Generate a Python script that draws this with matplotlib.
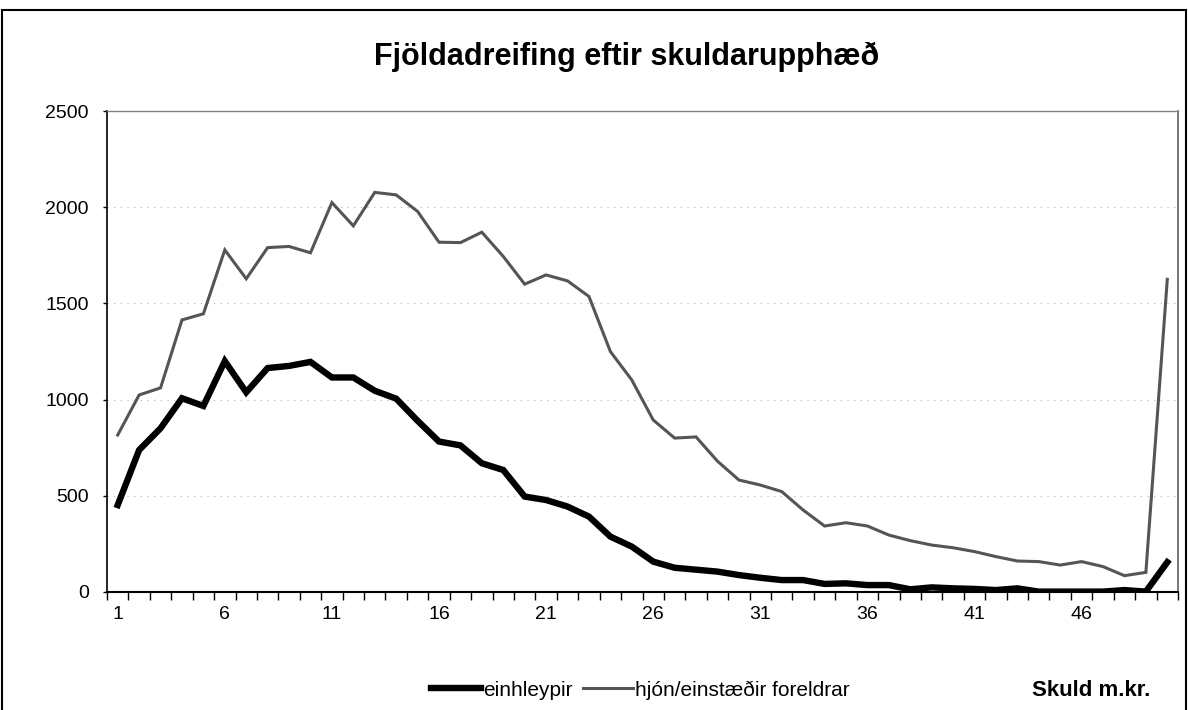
import matplotlib
matplotlib.use("Agg")
import matplotlib.pyplot as plt
from matplotlib.lines import Line2D
from matplotlib.patches import Rectangle
import numpy as np

plt.rcParams['font.family'] = ['Liberation Sans', 'DejaVu Sans']

categories = list(range(1, 51))
tick_labels = ['1', '6', '11', '16', '21', '26', '31', '36', '41', '46']

einhleypir = [452, 738, 851, 1007, 967, 1200, 1038, 1164, 1175, 1196,
              1115, 1115, 1046, 1005, 890, 782, 762, 669, 634, 496,
              478, 444, 392, 288, 236, 158, 126, 116, 106, 88,
              74, 62, 62, 42, 45, 36, 36, 14, 24, 19,
              16, 10, 19, 2, 2, 2, 2, 10, 2, 155]

hjon = [816, 1024, 1061, 1414, 1446, 1778, 1628, 1790, 1796, 1763,
        2024, 1903, 2077, 2064, 1978, 1818, 1816, 1870, 1744, 1600,
        1648, 1617, 1536, 1250, 1102, 894, 800, 806, 680, 582,
        556, 522, 426, 343, 360, 343, 296, 267, 244, 230,
        210, 184, 161, 158, 140, 158, 132, 85, 102, 1625]

title = 'Fjöldadreifing eftir skuldarupphæð'
series_names = ['einhleypir', 'hjón/einstæðir foreldrar']
xlabel = 'Skuld m.kr.'

fig = plt.figure(figsize=(11.88, 7.10), dpi=100)
ax = fig.add_axes([107/1188, 1 - 592/710, (1178 - 107)/1188, (592 - 111)/710])

ax.plot(categories, hjon, color='#555555', lw=2.2, solid_joinstyle='miter', zorder=3)
ax.plot(categories, einhleypir, color='black', lw=4.6, solid_joinstyle='miter', zorder=4)

ax.set_xlim(0.5, 50.5)
ax.set_ylim(0, 2500)
ax.set_yticks([0, 500, 1000, 1500, 2000, 2500])
ax.set_yticklabels(['0', '500', '1000', '1500', '2000', '2500'], fontsize=14)
ax.tick_params(axis='y', length=3, width=1, pad=10, direction='out')

ax.set_xticks([int(t) for t in tick_labels])
ax.set_xticklabels(tick_labels, fontsize=14)
ax.tick_params(axis='x', which='major', length=0, pad=10)
ax.set_xticks(np.arange(0.5, 51, 1), minor=True)
ax.tick_params(axis='x', which='minor', length=6, width=1, direction='out')

for v in [500, 1000, 1500, 2000]:
    ax.axhline(v, color='#b0b0b0', lw=0.8, ls=(0, (1, 5)), zorder=1)

ax.spines['left'].set_color('black')
ax.spines['left'].set_linewidth(1.2)
ax.spines['bottom'].set_color('black')
ax.spines['bottom'].set_linewidth(1.5)
ax.spines['top'].set_color('#808080')
ax.spines['top'].set_linewidth(1.0)
ax.spines['top'].set_linestyle((0, (2, 1)))
ax.spines['right'].set_color('#606060')
ax.spines['right'].set_linewidth(1.2)

fig.text(627/1188, 1 - 57/710, title, ha='center', va='center', fontsize=22, fontweight='bold')

handles = [Line2D([], [], color='black', lw=4.6),
           Line2D([], [], color='#555555', lw=2.2)]
fig.legend(handles, series_names, loc='center', bbox_to_anchor=(640/1188, 1 - 690/710),
           ncol=2, frameon=False, fontsize=15, handlelength=2.4, handletextpad=0.1,
           columnspacing=0.5, borderaxespad=0)

fig.text(1150/1188, 1 - 690/710, xlabel, ha='right', va='center', fontsize=16, fontweight='bold')

fig.patches.append(Rectangle((2/1188, -0.05), 1184/1188, 1.05 - 10/710,
                             transform=fig.transFigure, fill=False, ec='black', lw=1.5))

fig.savefig('out.png', dpi=100)
